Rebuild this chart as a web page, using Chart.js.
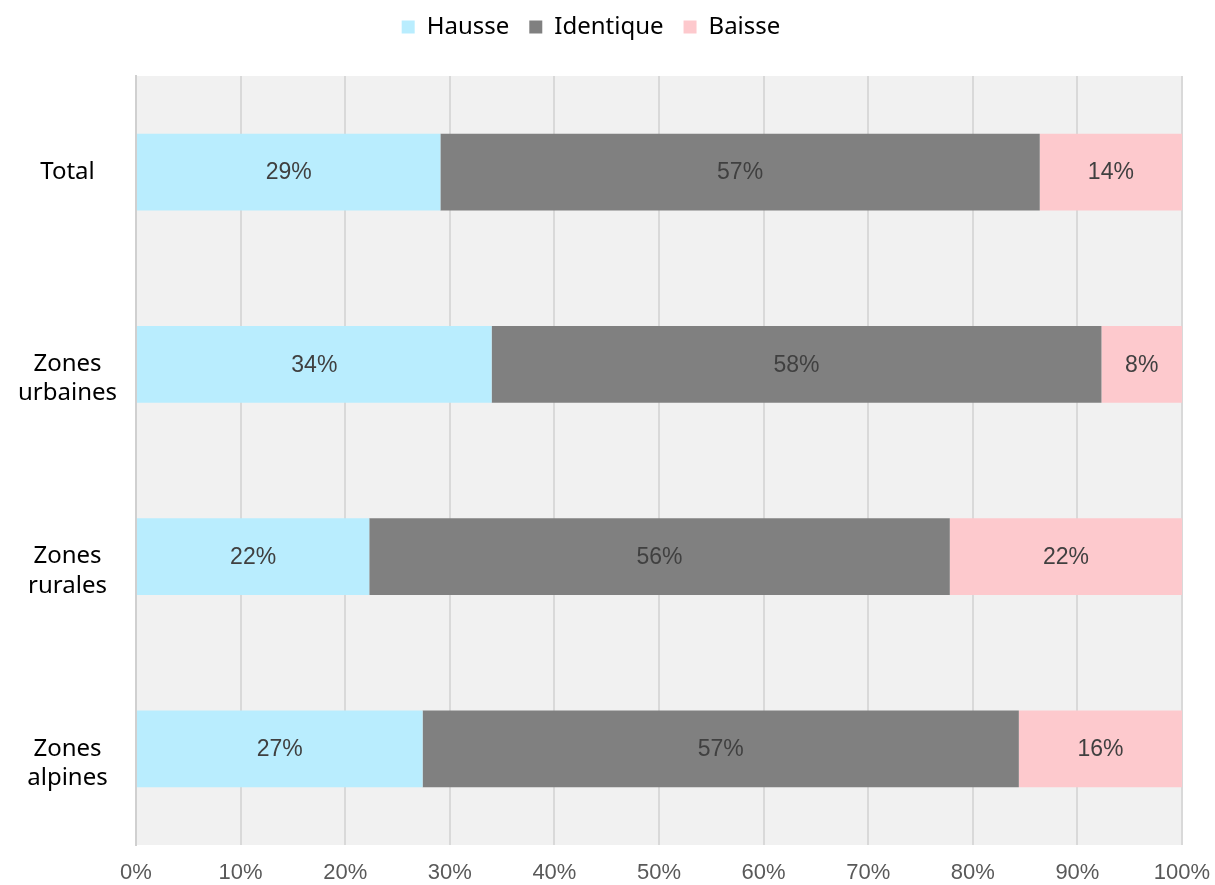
<!DOCTYPE html>
<html>
<head>
<meta charset="utf-8">
<script src="https://cdn.jsdelivr.net/npm/chart.js@4/dist/chart.umd.min.js"></script>
<style>
html,body{margin:0;padding:0;background:#fff;}
#wrap{width:1215px;height:885px;position:relative;}
</style>
</head>
<body>
<div id="wrap"><canvas id="c" width="1215" height="885"></canvas></div>
<script>
const categories = [["Total"], ["", "Zones", "urbaines"], ["", "Zones", "rurales"], ["", "Zones", "alpines"]];
const seriesNames = ["Hausse", "Identique", "Baisse"];
const hausse = [29.1, 34.0, 22.3, 27.4];
const identique = [57.3, 58.3, 55.5, 57.0];
const baisse = [13.6, 7.7, 22.2, 15.6];
const hausseLabels = ["29%", "34%", "22%", "27%"];
const identiqueLabels = ["57%", "58%", "56%", "57%"];
const baisseLabels = ["14%", "8%", "22%", "16%"];
const xTicks = [0, 10, 20, 30, 40, 50, 60, 70, 80, 90, 100];

const catFont = "'Noto Sans', 'Lato', sans-serif";
const numFont = "'Liberation Sans', Arial, sans-serif";

const areaBg = {
  id: 'areaBg',
  beforeDraw(chart) {
    const {ctx, chartArea: a} = chart;
    ctx.save();
    ctx.fillStyle = '#f1f1f1';
    ctx.fillRect(a.left, a.top, a.right - a.left + 1, a.bottom - a.top);
    ctx.restore();
  }
};

const legendGap = {
  id: 'legendGap',
  beforeInit(chart) {
    const origFit = chart.legend.fit;
    chart.legend.fit = function () {
      origFit.call(this);
      this.height += 27;
    };
  }
};

const barLabels = {
  id: 'barLabels',
  afterDatasetsDraw(chart) {
    const ctx = chart.ctx;
    ctx.save();
    ctx.font = "23px " + numFont;
    ctx.fillStyle = '#404040';
    ctx.textAlign = 'center';
    ctx.textBaseline = 'middle';
    chart.data.datasets.forEach((ds, di) => {
      const meta = chart.getDatasetMeta(di);
      meta.data.forEach((el, i) => {
        const p = el.getProps(['x', 'y', 'base'], true);
        const cx = (p.x + p.base) / 2;
        ctx.fillText(ds.valueLabels[i], cx, p.y + 1);
      });
    });
    ctx.restore();
  }
};

new Chart(document.getElementById('c'), {
  type: 'bar',
  data: {
    labels: categories,
    datasets: [
      {label: seriesNames[0], data: hausse, valueLabels: hausseLabels, backgroundColor: '#b9edfe'},
      {label: seriesNames[1], data: identique, valueLabels: identiqueLabels, backgroundColor: '#808080'},
      {label: seriesNames[2], data: baisse, valueLabels: baisseLabels, backgroundColor: '#fdc9cd'}
    ]
  },
  options: {
    indexAxis: 'y',
    responsive: false,
    animation: false,
    devicePixelRatio: 1,
    layout: {padding: {left: 0, right: 33, top: -5, bottom: 0}},
    datasets: {bar: {categoryPercentage: 1, barPercentage: 0.4, borderWidth: 0}},
    scales: {
      x: {
        stacked: true,
        min: 0, max: 100,
        afterBuildTicks(scale) { scale.ticks = xTicks.map(v => ({value: v})); },
        afterFit(scale) { scale.height = 40; scale.paddingRight = 0; scale.paddingLeft = 0; },
        grid: {color: '#d9d9d9', lineWidth: 2, drawTicks: false},
        border: {display: false},
        ticks: {
          padding: 15,
          color: '#595959',
          font: {family: numFont, size: 22},
          callback: v => v + '%'
        }
      },
      y: {
        stacked: true,
        afterFit(scale) { scale.width = 136; },
        grid: {display: false, drawTicks: false},
        border: {display: true, color: '#d0d0d0', width: 2},
        ticks: {
          crossAlign: 'center',
          padding: 19,
          color: '#000',
          font: {family: catFont, size: 24, lineHeight: 1.22}
        }
      }
    },
    plugins: {
      legend: {
        position: 'top',
        align: 'center',
        labels: {
          boxWidth: 13,
          boxHeight: 13,
          padding: 20,
          color: '#000',
          font: {family: catFont, size: 24}
        }
      },
      tooltip: {enabled: false}
    }
  },
  plugins: [legendGap, areaBg, barLabels]
});
</script>
</body>
</html>
